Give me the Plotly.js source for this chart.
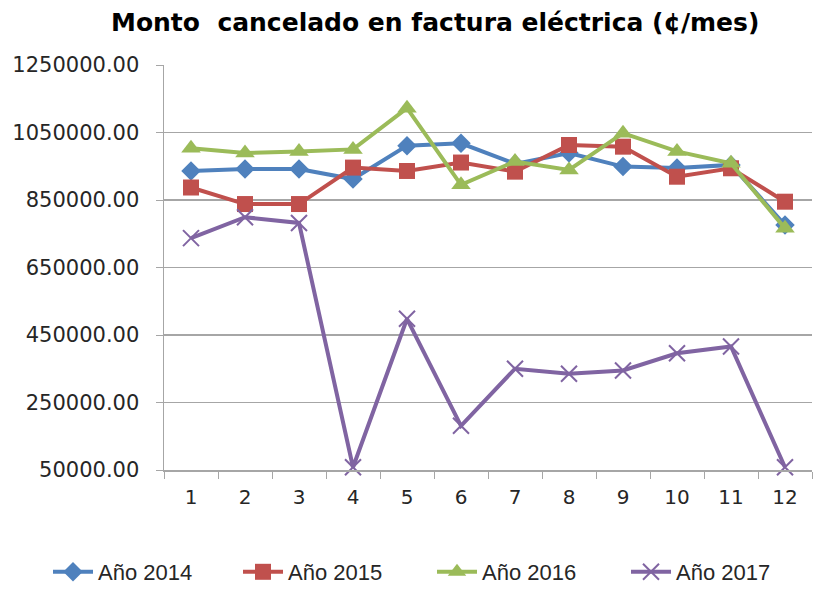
<!DOCTYPE html>
<html>
<head>
<meta charset="utf-8">
<script src="https://cdn.plot.ly/plotly-3.0.1.min.js"></script>
<style>html,body{margin:0;padding:0;background:#fff}#chart{width:818px;height:592px}</style>
</head>
<body>
<div id="chart"></div>
<script>
const months = ['1','2','3','4','5','6','7','8','9','10','11','12'];
const y2014 = [936000, 942000, 942000, 912000, 1011000, 1018000, 957000, 989000, 949000, 945000, 954000, 776000];
const y2015 = [887000, 838000, 838000, 946000, 936000, 961000, 934000, 1013000, 1008000, 919000, 944000, 845000];
const y2016 = [1003000, 989000, 994000, 1000000, 1122000, 895000, 964000, 939000, 1048000, 994000, 959000, 766000];
const y2017 = [737000, 799000, 782000, 58000, 498000, 181000, 350000, 335000, 345000, 396000, 416000, 58000];
const seriesNames = ['Año 2014', 'Año 2015', 'Año 2016', 'Año 2017'];
const yTicks = [50000, 250000, 450000, 650000, 850000, 1050000, 1250000];

const colors = ['#4F81BD', '#C0504D', '#9BBB59', '#8064A2'];
const symbols = ['diamond', 'square', 'triangle-up', 'x-thin-open'];
const sizes = [15, 16, 17, 16];
const legendIds = ['legend', 'legend2', 'legend3', 'legend4'];
const legendX = [48, 238, 432, 626];

const data = [y2014, y2015, y2016, y2017].map((ys, i) => ({
  type: 'scatter',
  mode: 'lines+markers',
  name: seriesNames[i],
  legend: legendIds[i],
  x: months,
  y: ys,
  line: {color: colors[i], width: 4},
  marker: {symbol: symbols[i], size: sizes[i], color: colors[i],
           line: {color: colors[i], width: i === 3 ? 2 : 0}},
  cliponaxis: false
}));

const layout = {
  width: 818, height: 592,
  margin: {l: 164, r: 6, t: 65, b: 122},
  paper_bgcolor: '#ffffff', plot_bgcolor: '#ffffff',
  title: {text: 'Monto  cancelado en factura eléctrica (¢/mes)',
          font: {family: 'DejaVu Sans', size: 25, color: '#000000', weight: 'bold'},
          x: 0.532, xanchor: 'center', y: 0.962, yanchor: 'middle'},
  xaxis: {type: 'category', tickson: 'boundaries', ticks: 'outside', ticklen: 7,
          tickcolor: '#a6a6a6', showgrid: false, showline: true, linecolor: '#a6a6a6', linewidth: 1.5,
          tickfont: {family: 'DejaVu Sans', size: 20, color: '#262626'}, zeroline: false,
          ticklabelstandoff: 8, range: [-0.5, 11.5]},
  yaxis: {range: [50000, 1250000], tickvals: yTicks, tickformat: '.2f',
          ticks: 'outside', ticklen: 7, tickcolor: '#a6a6a6',
          showline: true, linecolor: '#a6a6a6', linewidth: 1.5,
          showgrid: true, gridcolor: '#a6a6a6', gridwidth: 1.3, zeroline: false,
          ticklabelstandoff: 12,
          tickfont: {family: 'DejaVu Sans', size: 21, color: '#262626'}},
  showlegend: true
};
legendIds.forEach((id, i) => {
  layout[id] = {orientation: 'h', xref: 'container', yref: 'container',
    x: legendX[i] / 818, xanchor: 'left', y: 1 - 572 / 592, yanchor: 'middle',
    font: {family: 'Liberation Sans', size: 22, color: '#262626'},
    bgcolor: 'rgba(0,0,0,0)', itemwidth: 40};
});

Plotly.newPlot('chart', data, layout, {staticPlot: true, displayModeBar: false});
</script>
</body>
</html>
